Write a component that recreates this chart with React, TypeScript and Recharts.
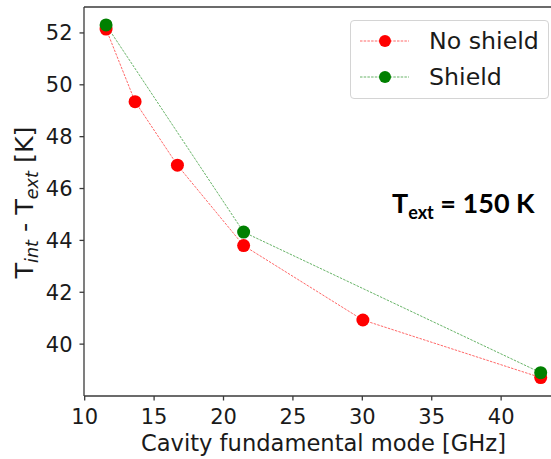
import React from "react";
import { LineChart, Line, XAxis, YAxis, ReferenceLine } from "recharts";

// Cavity fundamental mode [GHz] vs T_int - T_ext [K]
const NO_SHIELD_X = [11.54, 13.63, 16.68, 21.45, 30.04, 42.85];
const NO_SHIELD_Y = [52.15, 49.35, 46.9, 43.8, 40.93, 38.71];
const SHIELD_X = [11.54, 21.45, 42.85];
const SHIELD_Y = [52.31, 44.32, 38.9];

const X_TICKS = [10, 15, 20, 25, 30, 35, 40];
const Y_TICKS = [40, 42, 44, 46, 48, 50, 52];
const X_DOMAIN = [9.95, 44.5];
const Y_DOMAIN = [38.0, 53.0];

const SERIES = [
  { name: "No shield", color: "#ff0000" },
  { name: "Shield", color: "#008000" },
];

const noShield = NO_SHIELD_X.map((x, i) => ({ x, y: NO_SHIELD_Y[i] }));
const shield = SHIELD_X.map((x, i) => ({ x, y: SHIELD_Y[i] }));

const FONT = "'DejaVu Sans', sans-serif";
const TEXT = "#1a1a1a";
const SPINE = "#3a3a3a";

function YLabel() {
  return (
    <g>
      <text
        transform="translate(33, 202.5) rotate(-90)"
        textAnchor="middle"
        fontFamily={FONT}
        fontSize={25.5}
        fill={TEXT}
      >
        T
        <tspan fontStyle="italic" fontSize={17.5} dy={4.5}>
          int
        </tspan>
        <tspan dy={-4.5}> - T</tspan>
        <tspan fontStyle="italic" fontSize={17.5} dy={4.5}>
          ext
        </tspan>
        <tspan dy={-4.5}> [K]</tspan>
      </text>
      <text
        x={392}
        y={213}
        fontFamily="Lato, 'Open Sans', sans-serif"
        fontWeight="bold"
        fontSize={27}
        fill="#000"
      >
        T
        <tspan fontSize={18} dy={6}>
          ext
        </tspan>
        <tspan dy={-6}> = 150 K</tspan>
      </text>
    </g>
  );
}

function XLabel() {
  return (
    <text
      x={323.5}
      y={451}
      textAnchor="middle"
      fontFamily={FONT}
      fontSize={22.6}
      fill={TEXT}
    >
      Cavity fundamental mode [GHz]
    </text>
  );
}

function LegendBox() {
  return (
    <div
      style={{
        position: "absolute",
        left: 350,
        top: 20,
        width: 199,
        height: 79,
        boxSizing: "border-box",
        border: "1px solid #d4d4d4",
        borderRadius: 4,
        background: "rgba(255,255,255,0.85)",
      }}
    >
      {SERIES.map((s, i) => (
        <div
          key={s.name}
          style={{
            position: "absolute",
            left: 0,
            top: i === 0 ? 6 : 42,
            height: 28,
            display: "flex",
            alignItems: "center",
          }}
        >
          <svg width={70} height={28} style={{ display: "block" }}>
            <line
              x1={9}
              x2={58}
              y1={14}
              y2={14}
              stroke={s.color}
              strokeWidth={0.8}
              strokeDasharray="2.5 1.2"
              strokeOpacity={0.75}
            />
            <circle cx={34} cy={14} r={6} fill={s.color} />
          </svg>
          <span
            style={{
              marginLeft: 8,
              fontFamily: FONT,
              fontSize: 23.7,
              color: TEXT,
              lineHeight: "28px",
            }}
          >
            {s.name}
          </span>
        </div>
      ))}
    </div>
  );
}

export default function App() {
  return (
    <div
      style={{
        position: "absolute",
        left: 0,
        top: 0,
        width: 551,
        height: 459,
        overflow: "hidden",
        background: "#fff",
      }}
    >
      <LineChart
        width={600}
        height={459}
        margin={{ top: 7, right: 36.4, bottom: 0, left: 0 }}
      >
        <XAxis
          type="number"
          dataKey="x"
          domain={X_DOMAIN}
          ticks={X_TICKS}
          allowDataOverflow
          height={63}
          tickSize={4.5}
          tickMargin={8.6}
          stroke={SPINE}
          strokeWidth={1.3}
          tick={{ fontFamily: FONT, fontSize: 21, fill: TEXT }}
          label={{ content: () => <XLabel /> }}
        />
        <YAxis
          type="number"
          dataKey="y"
          domain={Y_DOMAIN}
          ticks={Y_TICKS}
          allowDataOverflow
          width={84}
          tickSize={4.5}
          tickMargin={7}
          stroke={SPINE}
          strokeWidth={1.3}
          tick={{ fontFamily: FONT, fontSize: 21, fill: TEXT }}
          label={{ content: () => <YLabel /> }}
        />
        <ReferenceLine y={Y_DOMAIN[1]} stroke={SPINE} strokeWidth={1.3} />
        <ReferenceLine x={X_DOMAIN[1]} stroke={SPINE} strokeWidth={1.3} />
        <Line
          data={noShield}
          dataKey="y"
          name={SERIES[0].name}
          stroke={SERIES[0].color}
          strokeWidth={0.8}
          strokeDasharray="2.5 1.2"
          strokeOpacity={0.75}
          dot={{ r: 6.5, fill: SERIES[0].color, stroke: "none", strokeWidth: 0, strokeDasharray: "" }}
          isAnimationActive={false}
        />
        <Line
          data={shield}
          dataKey="y"
          name={SERIES[1].name}
          stroke={SERIES[1].color}
          strokeWidth={0.8}
          strokeDasharray="2.5 1.2"
          strokeOpacity={0.75}
          dot={{ r: 6.5, fill: SERIES[1].color, stroke: "none", strokeWidth: 0, strokeDasharray: "" }}
          isAnimationActive={false}
        />
      </LineChart>
      <LegendBox />
    </div>
  );
}
